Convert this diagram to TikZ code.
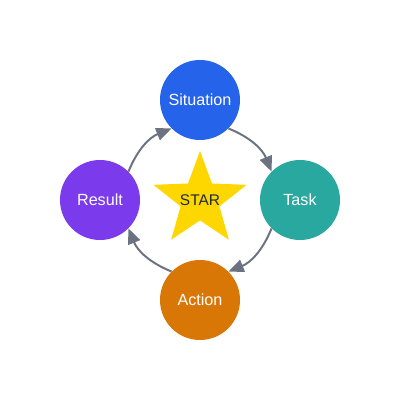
\documentclass[tikz,border=0pt]{standalone}
\usepackage{fontspec}
\setmainfont{Liberation Sans}
\usetikzlibrary{arrows.meta,shapes.geometric}
\definecolor{sitblue}{HTML}{2563EB}
\definecolor{taskteal}{HTML}{29A89F}
\definecolor{actorange}{HTML}{D97706}
\definecolor{respurple}{HTML}{7C3AED}
\definecolor{stargold}{HTML}{FFD700}
\definecolor{arrowgray}{HTML}{6B7280}
\definecolor{startext}{HTML}{1F2937}
\begin{document}
\begin{tikzpicture}[
  stage/.style={circle,minimum size=2cm,inner sep=0pt,text=white,font=\fontsize{11.5}{13}\selectfont},
  cycle/.style={draw=arrowgray,line width=1.4pt,-{Triangle[length=0.38cm,width=0.32cm]}}
]
\useasboundingbox (-5,-5) rectangle (5,5);
% the star in the middle
\node[star,star points=5,star point ratio=2.4,minimum size=2.45cm,inner sep=0pt,fill=stargold,
  label={[text=startext,font=\fontsize{11}{13}\selectfont]center:STAR}] (star) at (0,0) {};
% the four stages
\node[stage,fill=sitblue] (sit) at (0,2.5) {Situation};
\node[stage,fill=taskteal] (task) at (2.5,0) {Task};
\node[stage,fill=actorange] (act) at (0,-2.5) {Action};
\node[stage,fill=respurple] (res) at (-2.5,0) {Result};
% the arrows round the cycle
\draw[cycle] (sit.-45) to[bend left=23] (task.135);
\draw[cycle] (task.-135) to[bend left=23] (act.45);
\draw[cycle] (act.135) to[bend left=23] (res.-45);
\draw[cycle] (res.45) to[bend left=23] (sit.-135);
\end{tikzpicture}
\end{document}
